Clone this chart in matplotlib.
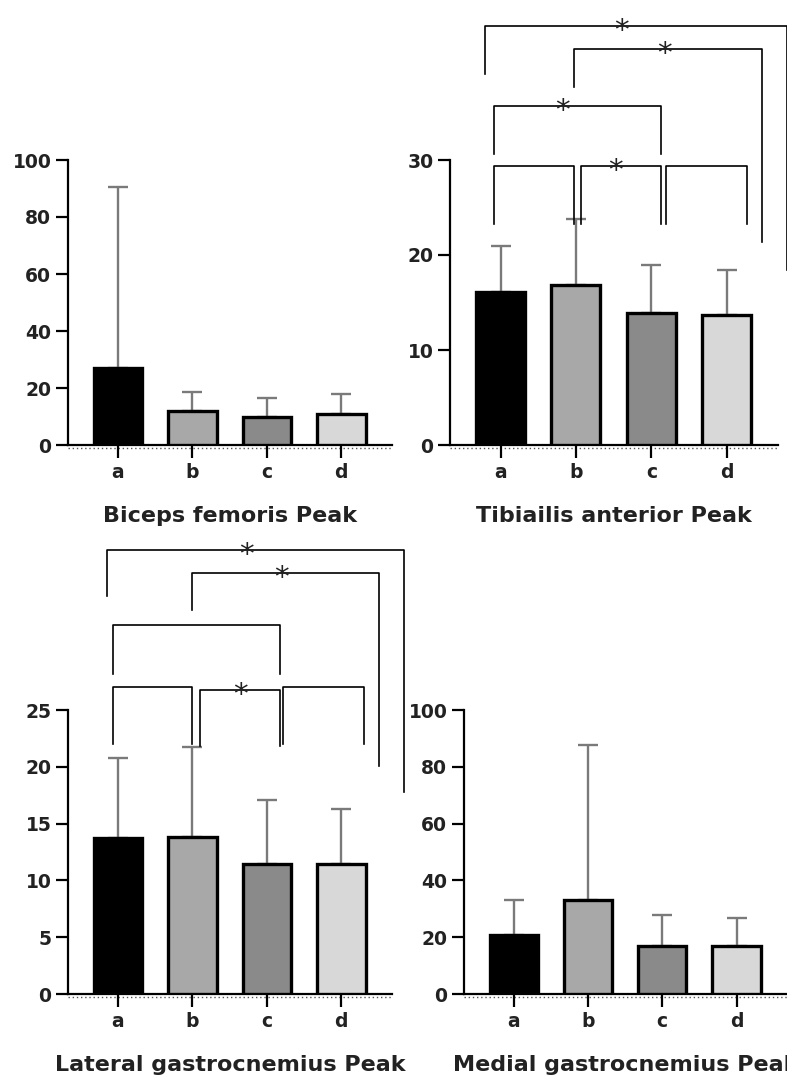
import numpy as np
import matplotlib
matplotlib.use('Agg')
import matplotlib.pyplot as plt
from matplotlib.transforms import ScaledTranslation

plt.rcParams['font.family'] = ['DejaVu Sans']

# ---------------- data ----------------
categories = ['a', 'b', 'c', 'd']
bar_colors = ['#000000', '#a8a8a8', '#8a8a8a', '#d8d8d8']

bf_mean = [27.0, 11.8, 10.0, 10.9]
bf_sd = [63.7, 6.7, 6.5, 7.0]

ta_mean = [16.1, 16.8, 13.9, 13.7]
ta_sd = [4.9, 7.0, 5.0, 4.7]

lg_mean = [13.7, 13.8, 11.4, 11.4]
lg_sd = [7.1, 7.9, 5.7, 4.9]

mg_mean = [20.7, 33.0, 17.0, 17.0]
mg_sd = [12.3, 54.8, 10.8, 9.9]

titles = ['Biceps femoris Peak', 'Tibiailis anterior Peak',
          'Lateral gastrocnemius Peak', 'Medial gastrocnemius Peak']

# comparison brackets: (x_left, x_right, y_top, y_left_bottom, y_right_bottom, star, star_x)
ta_brackets = [
    (-0.08, 0.98, 29.4, 23.3, 23.3, False, None),
    (1.07, 2.13, 29.4, 23.3, 23.3, True, 1.52),
    (2.19, 3.27, 29.4, 23.3, 23.3, False, None),
    (-0.08, 2.13, 35.7, 30.6, 30.6, True, 0.82),
    (0.97, 3.47, 41.7, 37.7, 21.4, True, 2.18),
    (-0.20, 3.80, 44.1, 39.1, 18.4, True, 1.61),
]
lg_brackets = [
    (-0.06, 1.00, 27.0, 22.0, 22.0, False, None),
    (1.10, 2.17, 26.8, 21.8, 21.8, True, 1.65),
    (2.22, 3.30, 27.0, 22.0, 22.0, False, None),
    (-0.06, 2.17, 32.5, 28.2, 28.2, False, None),
    (1.00, 3.50, 37.1, 33.8, 20.1, True, 2.19),
    (-0.15, 3.84, 39.1, 35.0, 17.8, True, 1.73),
]

# ---------------- figure ----------------
W, H = 787, 1076
fig = plt.figure(figsize=(W / 100, H / 100), dpi=100)


def add_ax(l, r, t, b):
    return fig.add_axes([l / W, 1 - b / H, (r - l) / W, (b - t) / H])


panels = [
    (add_ax(68, 392, 160, 445), bf_mean, bf_sd, 100, 20, titles[0], []),
    (add_ax(450, 778, 160, 445), ta_mean, ta_sd, 30, 10, titles[1], ta_brackets),
    (add_ax(68, 392, 710, 994), lg_mean, lg_sd, 25, 5, titles[2], lg_brackets),
    (add_ax(464, 787, 710, 994), mg_mean, mg_sd, 100, 20, titles[3], []),
]

for ax, mean, sd, ymax, ystep, title, brackets in panels:
    x = np.arange(len(categories))
    mean = np.array(mean)
    sd = np.array(sd)
    ax.errorbar(x, mean, yerr=[np.zeros_like(sd), sd], fmt='none',
                ecolor='#7a7a7a', elinewidth=1.7, capsize=7.5, capthick=1.7,
                zorder=2, clip_on=False)
    ax.bar(x, mean, width=0.65, color=bar_colors, edgecolor='black',
           linewidth=2.4, zorder=3)
    ax.set_xlim(-0.67, 3.68)
    ax.set_ylim(0, ymax)
    ax.set_yticks(np.arange(0, ymax + 0.1, ystep))
    ax.set_xticks(x, categories)
    for s in ['top', 'right']:
        ax.spines[s].set_visible(False)
    for s in ['left', 'bottom']:
        ax.spines[s].set_linewidth(1.6)
    ax.tick_params(axis='both', width=1.6, length=9, direction='out',
                   labelsize=13.5, colors='black')
    ax.tick_params(axis='y', pad=3)
    ax.tick_params(axis='x', pad=4)
    for lab in ax.get_xticklabels() + ax.get_yticklabels():
        lab.set_fontweight('bold')
        lab.set_color('#222222')
    ax.set_xlabel(title, fontsize=16, fontweight='bold', labelpad=17,
                  color='#222222')
    # dotted line under the x axis
    off = ScaledTranslation(0, -2.5 / 100, fig.dpi_scale_trans)
    ax.plot([0, 1], [0, 0], transform=ax.transAxes + off, ls=(0, (1, 2)),
            color='#555555', lw=1.0, clip_on=False, zorder=1)
    for (x1, x2, yt, y1b, y2b, star, sx) in brackets:
        ax.plot([x1, x1, x2, x2], [y1b, yt, yt, y2b], color='black', lw=1.2,
                clip_on=False, zorder=4)
        if star:
            ax.annotate('*', xy=(sx, yt), xytext=(0, -9.5),
                        textcoords='offset points', ha='center', va='baseline',
                        fontsize=21, color='#222222', annotation_clip=False,
                        zorder=5)

fig.savefig('out.png', dpi=100)
